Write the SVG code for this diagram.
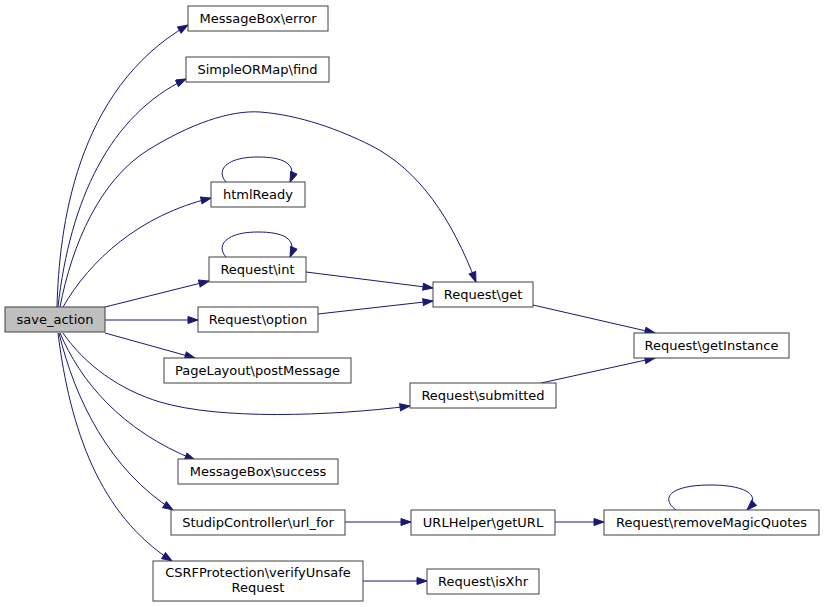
<svg xmlns="http://www.w3.org/2000/svg" width="824" height="607" viewBox="0 0 824 607">
<defs>
<style>
.node rect{fill:#ffffff;stroke:#404040;stroke-width:1}
.node text{font-family:"DejaVu Sans","Liberation Sans",sans-serif;font-size:13px;fill:#000;text-anchor:middle}
#save_action rect{fill:#bfbfbf}
.edges path{fill:none;stroke:#191970;stroke-width:1;marker-end:url(#arr)}
</style>
<marker id="arr" markerUnits="userSpaceOnUse" markerWidth="12" markerHeight="9" refX="11" refY="4" orient="auto">
<path d="M1,0.5 L11,4 L1,7.5 z" fill="#191970" stroke="#191970" stroke-width="1"/>
</marker>
</defs>
<rect width="824" height="607" fill="#ffffff"/>
<g class="edges">
<path d="M57,307 C59,230 75,90 188,25"/>
<path d="M58,307 C70,200 110,115 186,79"/>
<path d="M60,307 C72,244 100,180 148,150 C190,124 230,110 260,112 C300,115 340,130 370,145 C420,170 452,220 476,282"/>
<path d="M63,307 C90,260 140,215 211,198"/>
<path d="M105,307 L209,281"/>
<path d="M105,320 L198,320"/>
<path d="M105,333 L195,358"/>
<path d="M63,333 C85,365 120,390 160,402 C220,420 330,416 410,406"/>
<path d="M60,333 C80,380 120,430 195,460"/>
<path d="M59,333 C75,400 110,470 173,510"/>
<path d="M58,333 C70,430 100,515 172,561"/>
<path d="M226,182 C216,171 225,157 258,157 C282,157 298,163 290,182"/>
<path d="M226,257 C216,246 225,232 258,232 C282,232 298,238 290,257"/>
<path d="M306,272 L433,288"/>
<path d="M318,314 L433,301"/>
<path d="M533,305 L655,333"/>
<path d="M541,383 L655,358"/>
<path d="M345,522 L411,522"/>
<path d="M555,522 L604,522"/>
<path d="M363,581 L427,581"/>
<path d="M676,510 C660,498 670,485 711,485 C740,485 764,493 747,510"/>
</g>
<g id="save_action" class="node"><rect x="5" y="307" width="100" height="25"/><text x="55" y="324">save_action</text></g>
<g id="messagebox_error" class="node"><rect x="188" y="6" width="140" height="25"/><text x="258" y="23">MessageBox\error</text></g>
<g id="simpleormap_find" class="node"><rect x="186" y="57" width="143" height="25"/><text x="257.5" y="74">SimpleORMap\find</text></g>
<g id="htmlready" class="node"><rect x="211" y="182" width="94" height="25"/><text x="258" y="199">htmlReady</text></g>
<g id="request_int" class="node"><rect x="209" y="257" width="97" height="25"/><text x="257.5" y="274">Request\int</text></g>
<g id="request_option" class="node"><rect x="198" y="307" width="120" height="25"/><text x="258" y="324">Request\option</text></g>
<g id="pagelayout_postmessage" class="node"><rect x="164" y="358" width="187" height="25"/><text x="257.5" y="375">PageLayout\postMessage</text></g>
<g id="messagebox_success" class="node"><rect x="178" y="459" width="160" height="25"/><text x="258" y="476">MessageBox\success</text></g>
<g id="studipcontroller_url_for" class="node"><rect x="171" y="510" width="174" height="25"/><text x="258" y="527">StudipController\url_for</text></g>
<g id="csrfprotection_verifyunsaferequest" class="node"><rect x="153" y="561" width="210" height="40"/><text x="258" y="577">CSRFProtection\verifyUnsafe</text><text x="258" y="592">Request</text></g>
<g id="request_get" class="node"><rect x="433" y="282" width="100" height="25"/><text x="483" y="299">Request\get</text></g>
<g id="request_getinstance" class="node"><rect x="634" y="333" width="155" height="25"/><text x="711.5" y="350">Request\getInstance</text></g>
<g id="request_submitted" class="node"><rect x="410" y="383" width="146" height="25"/><text x="483" y="400">Request\submitted</text></g>
<g id="urlhelper_geturl" class="node"><rect x="411" y="510" width="144" height="25"/><text x="483" y="527">URLHelper\getURL</text></g>
<g id="request_removemagicquotes" class="node"><rect x="604" y="510" width="215" height="25"/><text x="711.5" y="527">Request\removeMagicQuotes</text></g>
<g id="request_isxhr" class="node"><rect x="427" y="569" width="112" height="25"/><text x="483" y="586">Request\isXhr</text></g>
</svg>
